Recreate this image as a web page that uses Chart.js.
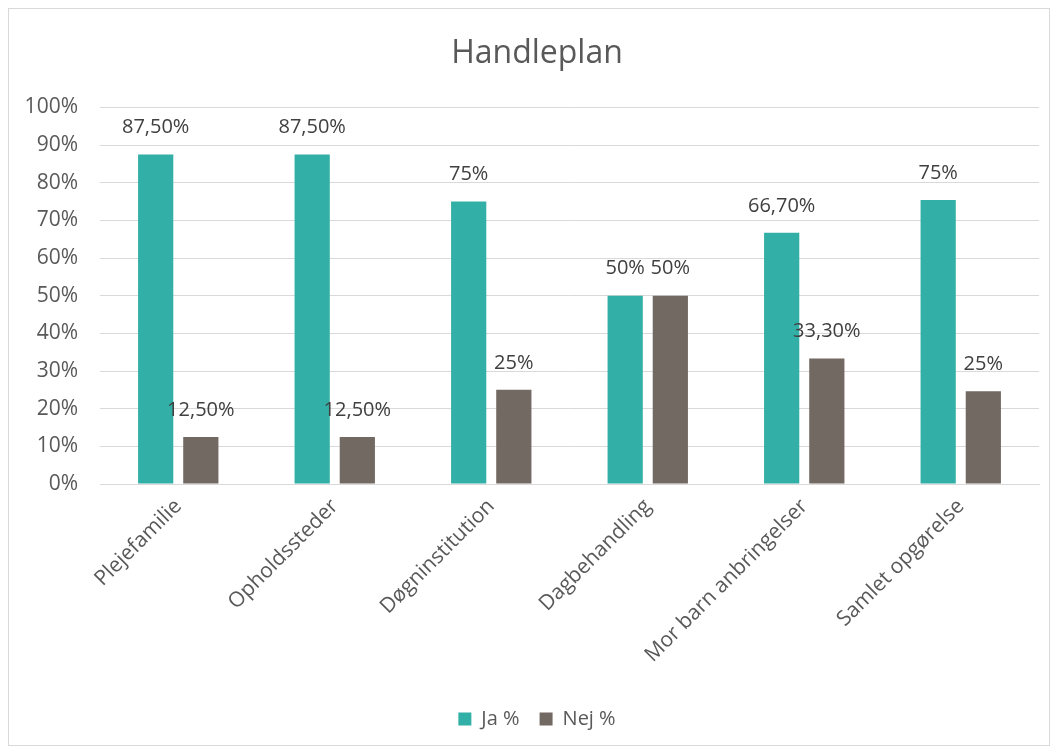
<!DOCTYPE html>
<html>
<head>
<meta charset="utf-8">
<script src="https://cdn.jsdelivr.net/npm/chart.js@4.4.0/dist/chart.umd.min.js"></script>
<style>
  body { margin: 0; background: #fff; }
  .container {
    position: absolute; left: 8px; top: 8px;
    width: 1040px; height: 736px;
    border: 1px solid #d9d9d9; background: #fff;
  }
</style>
</head>
<body>
<div class="container"><canvas id="chartHandleplan"></canvas></div>
<script>
// ====== Dados ======
const kategorier = ["Plejefamilie", "Opholdssteder", "Døgninstitution", "Dagbehandling", "Mor barn anbringelser", "Samlet opgørelse"];
const jaVaerdier = [87.5, 87.5, 75, 50, 66.7, 75.4];
const nejVaerdier = [12.5, 12.5, 25, 50, 33.3, 24.6];
const jaEtiketter = ["87,50%", "87,50%", "75%", "50%", "66,70%", "75%"];
const nejEtiketter = ["12,50%", "12,50%", "25%", "50%", "33,30%", "25%"];
const yTicks = [0, 10, 20, 30, 40, 50, 60, 70, 80, 90, 100];

const tekstFarve = "#595959";
const fontFamily = "'Open Sans', 'Liberation Sans', sans-serif";

// ====== Etiketter over søjler ======
const dataLabels = {
    id: "dataLabels",
    afterDatasetsDraw(chart) {
        const ctx = chart.ctx;
        const etiketter = [jaEtiketter, nejEtiketter];
        ctx.save();
        ctx.font = "20px " + fontFamily;
        ctx.fillStyle = "#404040";
        ctx.textAlign = "center";
        ctx.textBaseline = "middle";
        chart.data.datasets.forEach((ds, i) => {
            chart.getDatasetMeta(i).data.forEach((bar, j) => {
                ctx.fillText(etiketter[i][j], bar.x, bar.y - 27);
            });
        });
        ctx.restore();
    }
};

// ====== Titel og forklaring lidt til højre (som i Excel) ======
const flytBokse = {
    id: "flytBokse",
    afterLayout(chart) {
        [chart.titleBlock, chart.legend].forEach(b => {
            if (!b) return;
            b.left += 13;
            b.right += 13;
        });
    }
};

new Chart(document.getElementById("chartHandleplan"), {
    type: "bar",
    data: {
        labels: kategorier,
        datasets: [
            { label: "Ja %", data: jaVaerdier, backgroundColor: "#32AFA6" },
            { label: "Nej %", data: nejVaerdier, backgroundColor: "#736963" }
        ]
    },
    options: {
        responsive: true,
        maintainAspectRatio: false,
        animation: false,
        categoryPercentage: 0.577,
        barPercentage: 0.78,
        layout: { padding: { left: 0, right: 10, top: 0, bottom: 6 } },
        plugins: {
            title: {
                display: true,
                text: "Handleplan",
                color: tekstFarve,
                font: { size: 32, family: fontFamily, weight: "normal" },
                padding: { top: 26, bottom: 34 }
            },
            legend: {
                position: "bottom",
                labels: {
                    color: tekstFarve,
                    font: { size: 20, family: fontFamily },
                    boxWidth: 13, boxHeight: 13,
                    padding: 20
                }
            },
            tooltip: { enabled: false }
        },
        scales: {
            y: {
                min: 0, max: 100,
                afterBuildTicks: s => { s.ticks = yTicks.map(v => ({ value: v })); },
                afterFit: s => { s.width = 91; },
                grid: { color: "#d9d9d9", drawTicks: false },
                border: { display: false },
                ticks: {
                    color: tekstFarve,
                    font: { size: 21, family: fontFamily },
                    padding: 22,
                    callback: v => v + "%"
                }
            },
            x: {
                grid: { display: false },
                border: { color: "#d9d9d9" },
                afterFit: s => { s.height = 205; },
                ticks: {
                    color: tekstFarve,
                    font: { size: 21, family: fontFamily },
                    minRotation: 45, maxRotation: 45,
                    padding: 2
                }
            }
        }
    },
    plugins: [dataLabels, flytBokse]
});
</script>
</body>
</html>
